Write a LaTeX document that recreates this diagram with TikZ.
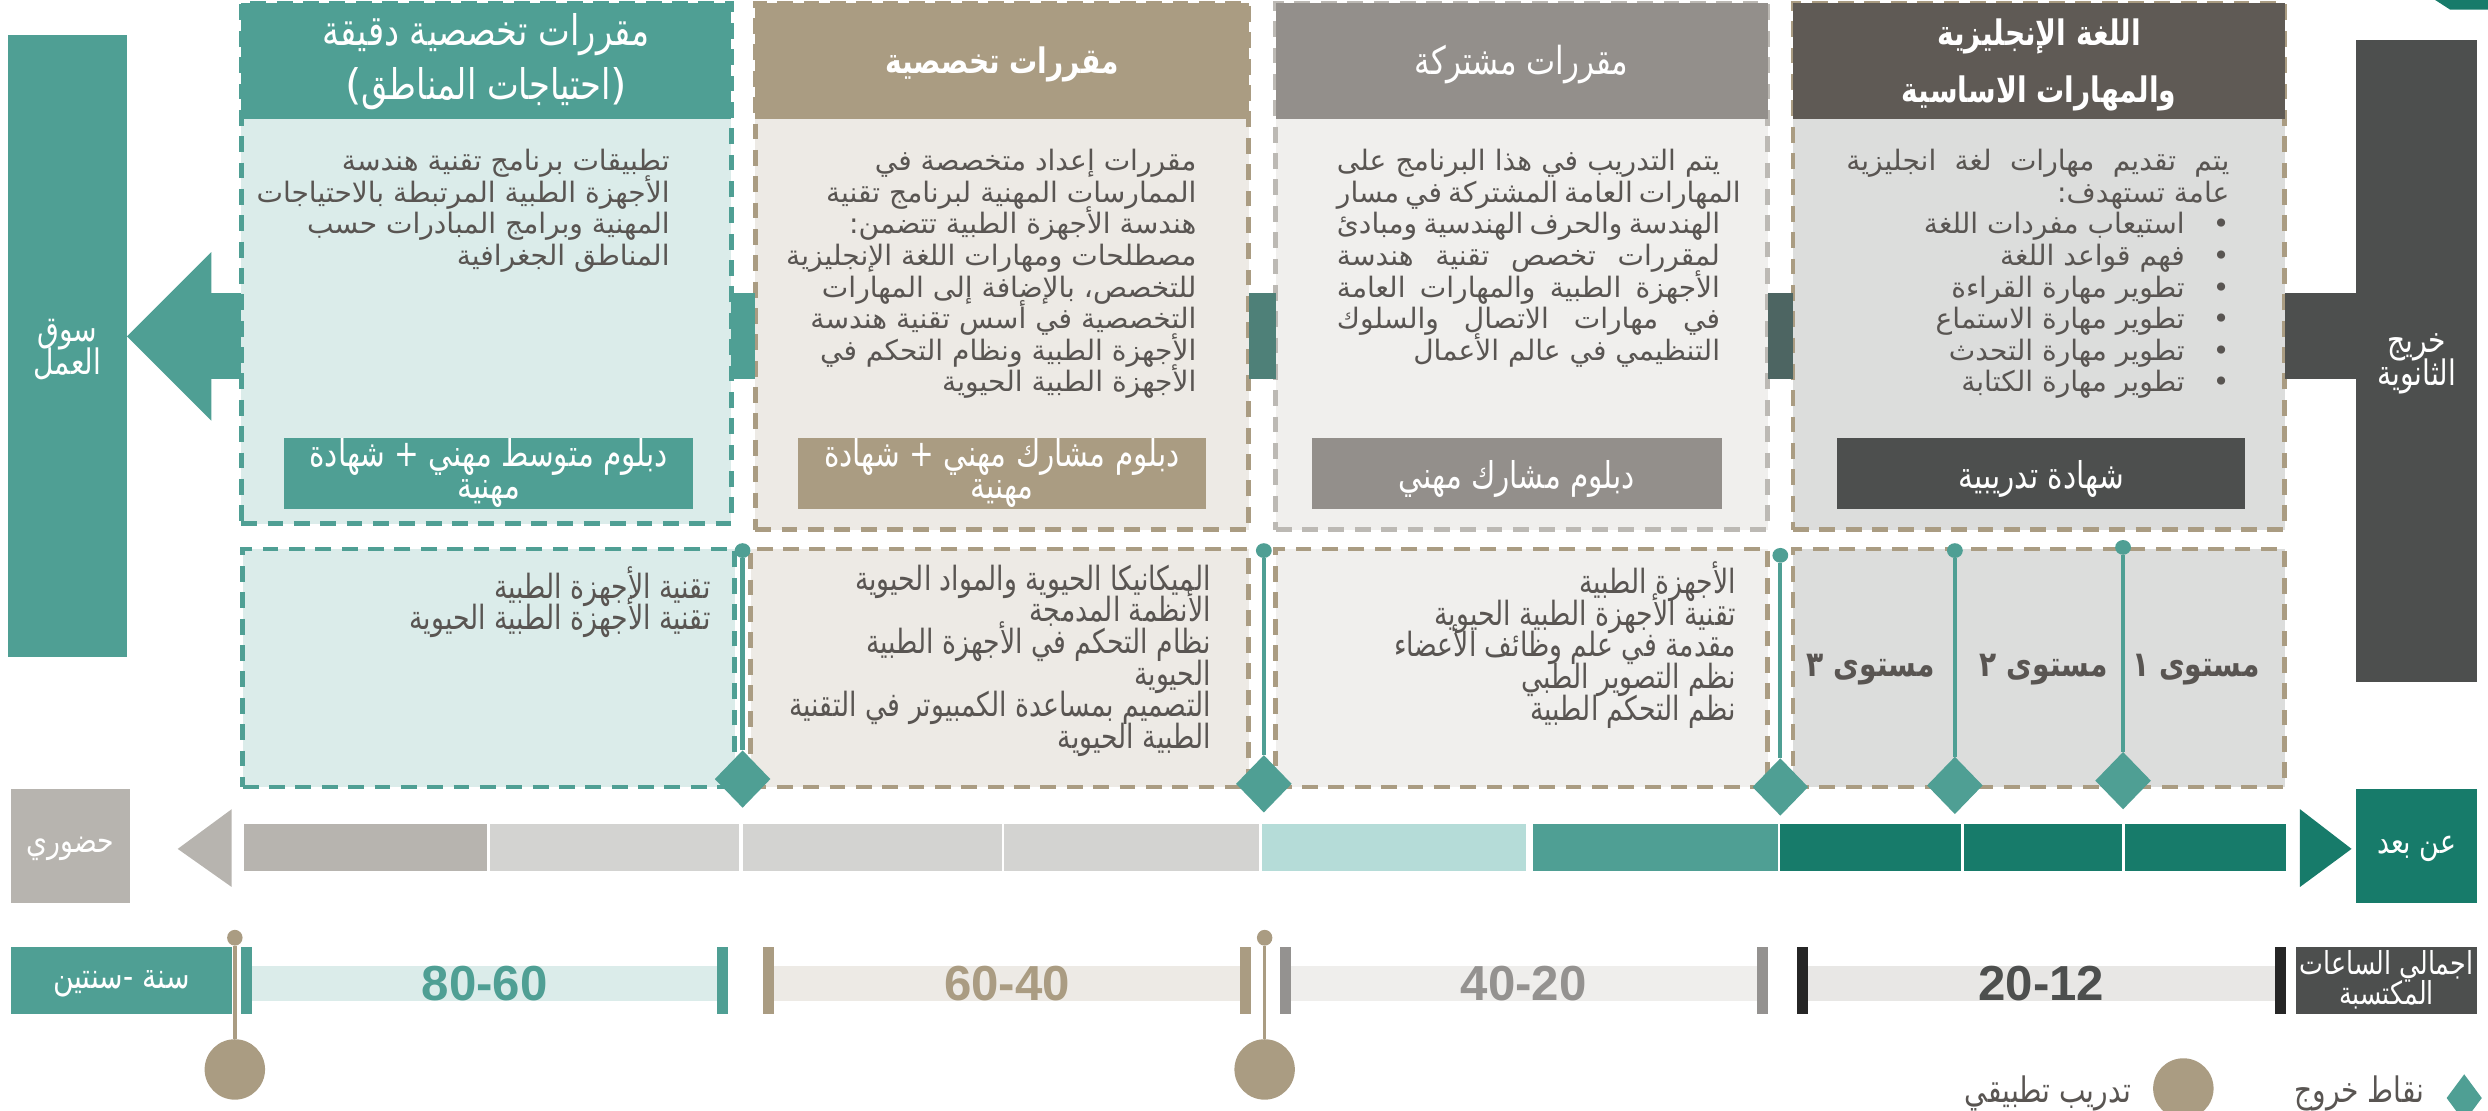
\documentclass[tikz,border=0pt]{standalone}
\usepackage{fontspec}
\setmainfont{DejaVu Sans}
\newfontfamily\arabicfont[Script=Arabic]{DejaVu Sans}
\newfontfamily\arabiccond[Script=Arabic,FakeStretch=0.8]{DejaVu Sans}
\newfontfamily\numfont{Liberation Sans}
\TeXXeTstate=1
\usetikzlibrary{arrows.meta,shapes.geometric,fit}

\definecolor{teal1}{HTML}{4F9F94}
\definecolor{tealbg}{HTML}{DBECEA}
\definecolor{tealdark}{HTML}{177B6A}
\definecolor{tealmid}{HTML}{B5DCD8}
\definecolor{tan1}{HTML}{AA9C82}
\definecolor{tanbg}{HTML}{EDEAE5}
\definecolor{gray1}{HTML}{938F8B}
\definecolor{graybg}{HTML}{F0EFED}
\definecolor{graydash}{HTML}{BCB9B4}
\definecolor{brown1}{HTML}{5F5A55}
\definecolor{dark1}{HTML}{4D4F4E}
\definecolor{darkbg}{HTML}{DCDDDC}
\definecolor{txt}{HTML}{595552}
\definecolor{bar1}{HTML}{B7B4AF}
\definecolor{bar2}{HTML}{D3D3D1}
\definecolor{link2}{HTML}{4E8078}
\definecolor{link3}{HTML}{4D6562}
\definecolor{tick3}{HTML}{949290}
\definecolor{tick4}{HTML}{262626}
\definecolor{hrs3}{HTML}{EFEEEC}
\definecolor{hrs4}{HTML}{E8E7E5}

\newcommand{\AR}[1]{\mbox{\arabicfont\beginR #1\endR}}
\newcommand{\ARc}[1]{\mbox{\arabiccond\beginR #1\endR}}
\newcommand{\jline}[1]{\makebox[109pt][s]{#1}}

\begin{document}
\begin{tikzpicture}[x=0.015867cm, y=-0.015867cm,
    every node/.style={inner sep=0pt, outer sep=0pt},
    spanbox/.style={fit={#1}, inner sep=0pt},
    dashbox/.style={line width=1.4pt, dash pattern=on 4.5pt off 3pt},
    headtext/.style={text=white, font=\fontsize{11}{11}\selectfont},
    bodytext/.style={text=txt, font={\fontsize{8}{9}\selectfont\lineskiplimit=-20pt}, align=right, anchor=north east},
    lowtext/.style={text=txt, font={\fontsize{9.5}{9}\selectfont\lineskiplimit=-20pt}, align=right, anchor=north east},
    diploma/.style={text=white, font=\fontsize{10.5}{10.5}\selectfont},
    sidetext/.style={text=white, font=\fontsize{10}{10}\selectfont},
    leveltext/.style={text=txt, font=\bfseries\fontsize{10}{10}\selectfont},
    linkbar/.style={line width=24.4pt},
    exitpt/.style={diamond, fill=teal1, minimum width=15.8pt, minimum height=16.3pt},
    pinhead/.style={ellipse, fill=teal1, minimum width=4.5pt, minimum height=4.2pt},
    pinline/.style={teal1, line width=1.2pt},
    trainpt/.style={circle, fill=tan1, minimum size=17.2pt},
    trainhead/.style={ellipse, fill=tan1, minimum width=4.4pt, minimum height=4.5pt},
    hrs/.style={font=\numfont\bfseries\fontsize{14}{14}\selectfont}
  ]
  \useasboundingbox (0,0) rectangle (1568,700);
  \coordinate (mid) at (0,212);

  % columns
  \node[spanbox={(152,2) (461,330)}, fill=tealbg, draw=teal1, dashbox] (col1) {};
  \node[spanbox={(152,2) (461,75)}, fill=teal1] (head1) {};
  \node[headtext, font=\fontsize{12}{12}\selectfont] (head1a) at (306.5,22) {\ARc{مقررات تخصصية دقيقة}};
  \node[headtext, font=\fontsize{12}{12}\selectfont] (head1b) at (306.5,56) {(\ARc{احتياجات المناطق})};
  \node[spanbox={(476,2) (787,334)}, fill=tanbg, draw=tan1, dashbox] (col2) {};
  \node[spanbox={(476,2) (787,75)}, fill=tan1] (head2) {};
  \node[headtext, font=\bfseries] (head2a) at ([yshift=-1pt]head2.center) {\ARc{مقررات تخصصية}};
  \node[spanbox={(804,2) (1114,334)}, fill=graybg, draw=graydash, dashbox] (col3) {};
  \node[spanbox={(804,2) (1114,75)}, fill=gray1] (head3) {};
  \node[headtext] (head3a) at ([yshift=-1pt]head3.center) {\ARc{مقررات مشتركة}};
  \node[spanbox={(1130,2) (1440,334)}, fill=darkbg, draw=tan1, dashbox] (col4) {};
  \node[spanbox={(1130,2) (1440,75)}, fill=brown1] (head4) {};
  \node[headtext, font=\bfseries] (head4a) at (1285,23) {\ARc{اللغة الإنجليزية}};
  \node[headtext, font=\bfseries] (head4b) at (1285,59) {\ARc{والمهارات الاساسية}};

  \node[bodytext] (txt1) at (422,94) {\AR{تطبيقات برنامج تقنية هندسة}\\
    \AR{الأجهزة الطبية المرتبطة بالاحتياجات}\\\AR{المهنية وبرامج المبادرات حسب}\\
    \AR{المناطق الجغرافية}};
  \node[bodytext] (txt2) at (754,94) {\AR{مقررات إعداد متخصصة في}\\
    \AR{الممارسات المهنية لبرنامج تقنية}\\\AR{هندسة الأجهزة الطبية تتضمن\kern0pt:}\\
    \AR{مصطلحات ومهارات اللغة الإنجليزية}\\\AR{للتخصص\kern0pt، بالإضافة إلى المهارات}\\
    \AR{التخصصية في أسس تقنية هندسة}\\\AR{الأجهزة الطبية ونظام التحكم في}\\
    \AR{الأجهزة الطبية الحيوية}};
  \node[bodytext] (txt3) at (1084,94) {\jline{\arabicfont\beginR يتم التدريب في هذا البرنامج على\endR}\\
    \jline{\arabicfont\beginR المهارات العامة المشتركة في مسار\endR}\\
    \jline{\arabicfont\beginR الهندسة والحرف الهندسية ومبادئ\endR}\\
    \jline{\arabicfont\beginR لمقررات تخصص تقنية هندسة\endR}\\
    \jline{\arabicfont\beginR الأجهزة الطبية والمهارات العامة\endR}\\
    \jline{\arabicfont\beginR في مهارات الاتصال والسلوك\endR}\\\AR{التنظيمي في عالم الأعمال}};
  \node[bodytext] (txt4) at (1405,94) {\jline{\arabicfont\beginR يتم تقديم مهارات لغة انجليزية\endR}\\
    \AR{عامة تستهدف\kern0pt:}\\
    \AR{•\hspace{8pt}استيعاب مفردات اللغة}\\\AR{•\hspace{8pt}فهم قواعد اللغة}\\
    \AR{•\hspace{8pt}تطوير مهارة القراءة}\\\AR{•\hspace{8pt}تطوير مهارة الاستماع}\\
    \AR{•\hspace{8pt}تطوير مهارة التحدث}\\\AR{•\hspace{8pt}تطوير مهارة الكتابة}};

  \node[spanbox={(179,276) (437,321)}, fill=teal1] (dip1) {};
  \node[diploma] (dip1a) at (308,288) {\ARc{دبلوم متوسط مهني + شهادة}};
  \node[diploma] (dip1b) at (308,311) {\ARc{مهنية}};
  \node[spanbox={(503,276) (760,321)}, fill=tan1] (dip2) {};
  \node[diploma] (dip2a) at (631.5,288) {\ARc{دبلوم مشارك مهني + شهادة}};
  \node[diploma] (dip2b) at (631.5,311) {\ARc{مهنية}};
  \node[spanbox={(827,276) (1085,321)}, fill=gray1] (dip3) {};
  \node[diploma] (dip3a) at ([yshift=-1.5pt]dip3.center) {\ARc{دبلوم مشارك مهني}};
  \node[spanbox={(1158,276) (1415,321)}, fill=dark1] (dip4) {};
  \node[diploma] (dip4a) at ([yshift=-1.5pt]dip4.center) {\ARc{شهادة تدريبية}};

  % side boxes
  \node[spanbox={(5,22) (80,414)}, fill=teal1] (market) {};
  \node[sidetext] (marketa) at (42.5,211) {\ARc{سوق}};
  \node[sidetext] (marketb) at (42.5,229) {\ARc{العمل}};
  \node[spanbox={(1485,25) (1561,430)}, fill=dark1] (grad) {};
  \node[sidetext] (grada) at (1523,219) {\ARc{خريج}};
  \node[sidetext] (gradb) at (1523,237) {\ARc{الثانوية}};
  \draw[linkbar, teal1] (col1.east |- mid) -- (col2.west |- mid);
  \draw[linkbar, link2] (col2.east |- mid) -- (col3.west |- mid);
  \draw[linkbar, link3] (col3.east |- mid) -- (col4.west |- mid);
  \draw[linkbar, dark1] (col4.east |- mid) -- (grad.west |- mid);
  \draw[linkbar, teal1, -{Triangle[width=48pt, length=24pt, line width=0pt]}]
    (col1.west |- mid) -- (market.east |- mid);

  % course lists
  \node[spanbox={(153,346) (463,496)}, fill=tealbg, draw=teal1, dashbox] (low1) {};
  \node[spanbox={(473,346) (787,496)}, fill=tanbg, draw=tan1, dashbox] (low2) {};
  \node[spanbox={(804,346) (1114,496)}, fill=graybg, draw=tan1, dashbox] (low3) {};
  \node[spanbox={(1130,346) (1440,496)}, fill=darkbg, draw=tan1, dashbox] (low4) {};
  \node[lowtext] (ltxt1) at (448,357) {\ARc{تقنية الأجهزة الطبية}\\\ARc{تقنية الأجهزة الطبية الحيوية}};
  \node[lowtext] (ltxt2) at (763,356) {\ARc{الميكانيكا الحيوية والمواد الحيوية}\\
    \ARc{الأنظمة المدمجة}\\\ARc{نظام التحكم في الأجهزة الطبية}\\\ARc{الحيوية}\\
    \ARc{التصميم بمساعدة الكمبيوتر في التقنية}\\\ARc{الطبية الحيوية}};
  \node[lowtext] (ltxt3) at (1094,354) {\ARc{الأجهزة الطبية}\\\ARc{تقنية الأجهزة الطبية الحيوية}\\
    \ARc{مقدمة في علم وظائف الأعضاء}\\\ARc{نظم التصوير الطبي}\\\ARc{نظم التحكم الطبية}};
  \node[leveltext] (lvl3) at (1179,422) {\ARc{مستوى ٣}};
  \node[leveltext] (lvl2) at (1288,422) {\ARc{مستوى ٢}};
  \node[leveltext] (lvl1) at (1384,422) {\ARc{مستوى ١}};

  % exit points
  \foreach \x/\yt/\yb [count=\i] in {468/347/491, 796.5/347/494, 1122/350/496, 1232/347/495, 1338/345/492} {
    \node[pinhead] (ptop\i) at (\x,\yt) {};
    \node[exitpt] (exit\i) at (\x,\yb) {};
    \draw[pinline] (ptop\i) -- (exit\i);
  }

  % delivery bar
  \node[spanbox={(7,497) (82,569)}, fill=bar1] (onsite) {};
  \node[sidetext, font=\fontsize{9.5}{9.5}\selectfont] (onsitea) at ([yshift=-1pt]onsite.center) {\ARc{حضوري}};
  \node[spanbox={(1485,497) (1561,569)}, fill=tealdark] (remote) {};
  \node[sidetext, font=\fontsize{9.5}{9.5}\selectfont] (remotea) at ([yshift=-1pt]remote.center) {\ARc{عن بعد}};
  \foreach \a/\b/\fc [count=\i] in {154/307/bar1, 308.5/466/bar2, 468/631.6/bar2, 633/793.5/bar2,
      795.5/962/tealmid, 966/1120.5/teal1, 1122/1236/tealdark, 1238/1337.5/tealdark, 1339.5/1440.5/tealdark}
    \node[spanbox={(\a,519) (\b,549)}, fill=\fc] (seg\i) {};
  \fill[bar1] (112,535) -- (146,510) -- (146,559) -- cycle;
  \fill[tealdark] (1482,535) -- (1449.5,510) -- (1449.5,559) -- cycle;

  % hours
  \node[spanbox={(7,597) (146,639)}, fill=teal1] (years) {};
  \node[sidetext] (yearsa) at ([yshift=-1pt]years.center) {\ARc{سنة -\kern0pt سنتين}};
  \node[spanbox={(1447,597) (1561,639)}, fill=dark1] (total) {};
  \node[sidetext, font=\fontsize{9}{9}\selectfont] (totala) at (1504,609) {\ARc{اجمالي الساعات}};
  \node[sidetext, font=\fontsize{9}{9}\selectfont] (totalb) at (1504,627) {\ARc{المكتسبة}};
  \foreach \l/\r/\fc/\bc/\nc/\lab [count=\i] in {152/459/teal1/tealbg/teal1/80-60,
      481/788.5/tan1/tanbg/tan1/60-40, 806.6/1114/tick3/hrs3/tick3/40-20, 1132.5/1440.5/tick4/hrs4/dark1/20-12} {
    \fill[\fc] (\l,597) rectangle ++(7,42);
    \fill[\fc] (\r,597) rectangle ++(-7,42);
    \node[spanbox={(\l+7,609) (\r-7,631)}, fill=\bc] (hbar\i) {};
    \node[hrs, text=\nc] (hrs\i) at (hbar\i.center) {\lab};
  }
  \foreach \x [count=\i] in {148, 797} {
    \node[trainhead] (stop\i) at (\x,591) {};
    \node[trainpt] (train\i) at (\x,674) {};
    \draw[tan1, line width=1pt] (stop\i) -- (train\i);
  }

  % legend
  \node[exitpt, minimum width=10pt, minimum height=13.5pt] (legexit) at (1553,692) {};
  \node[text=txt, font=\fontsize{10}{10}\selectfont, anchor=east] (legexittxt) at (1528,689) {\ARc{نقاط خروج}};
  \node[trainpt] (legtrain) at (1376,686) {};
  \node[text=txt, font=\fontsize{10}{10}\selectfont, anchor=east] (legtraintxt) at (1343,689) {\ARc{تدريب تطبيقي}};
  \fill[tealdark] (1534.7,0) -- (1568,0) -- (1568,6) -- (1544,6) -- cycle;
\end{tikzpicture}
\end{document}
